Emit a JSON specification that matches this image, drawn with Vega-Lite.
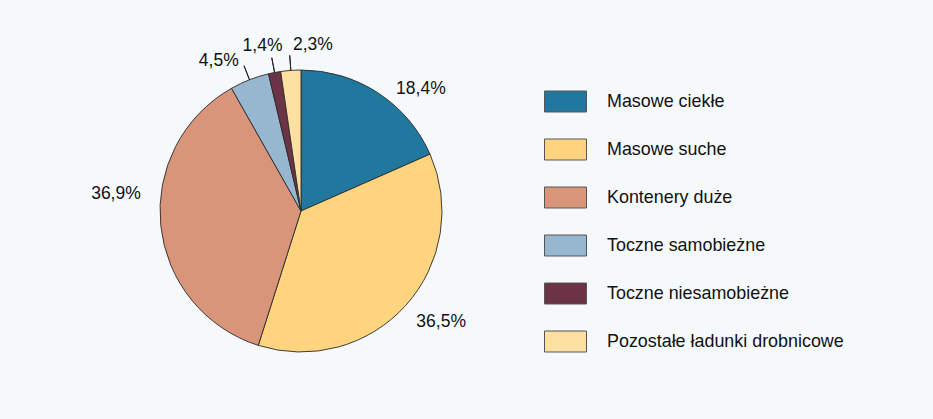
{
  "$schema": "https://vega.github.io/schema/vega-lite/v6.json",
  "width": 282,
  "height": 282,
  "autosize": {"type": "none"},
  "padding": {"left": 160, "top": 70, "right": 491, "bottom": 67},
  "background": "#f5f9fc",
  "config": {
    "view": {"stroke": null},
    "font": "Liberation Sans",
    "text": {"font": "Liberation Sans", "fontSize": 17.5, "color": "#111111"}
  },
  "data": {
    "values": [
      {"idx": 1, "category": "Masowe ciekłe", "value": 18.4, "label": "18,4%"},
      {"idx": 2, "category": "Masowe suche", "value": 36.5, "label": "36,5%"},
      {"idx": 3, "category": "Kontenery duże", "value": 36.9, "label": "36,9%"},
      {"idx": 4, "category": "Toczne samobieżne", "value": 4.5, "label": "4,5%"},
      {"idx": 5, "category": "Toczne niesamobieżne", "value": 1.4, "label": "1,4%"},
      {"idx": 6, "category": "Pozostałe ładunki drobnicowe", "value": 2.3, "label": "2,3%"}
    ]
  },
  "encoding": {
    "theta": {"field": "value", "type": "quantitative", "stack": true},
    "order": {"field": "idx", "type": "quantitative"}
  },
  "layer": [
    {
      "mark": {"type": "arc", "outerRadius": 141, "stroke": "#2a2a2a", "strokeWidth": 0.9},
      "encoding": {
        "color": {
          "field": "category",
          "type": "nominal",
          "sort": ["Masowe ciekłe", "Masowe suche", "Kontenery duże", "Toczne samobieżne", "Toczne niesamobieżne", "Pozostałe ładunki drobnicowe"],
          "scale": {
            "domain": ["Masowe ciekłe", "Masowe suche", "Kontenery duże", "Toczne samobieżne", "Toczne niesamobieżne", "Pozostałe ładunki drobnicowe"],
            "range": ["#21789f", "#ffd47f", "#d9957a", "#97b6cf", "#6c3347", "#ffe0a3"]
          },
          "legend": {
            "title": null,
            "orient": "none",
            "legendX": 384,
            "legendY": 10,
            "padding": 0,
            "symbolType": "M-1,-0.5H1V0.5H-1Z",
            "symbolSize": 1764,
            "symbolStrokeColor": "#555555",
            "symbolStrokeWidth": 1,
            "symbolOpacity": 1,
            "labelFont": "Liberation Sans",
            "labelFontSize": 17.9,
            "labelColor": "#111111",
            "labelOffset": 20,
            "labelLimit": 400,
            "rowPadding": 14
          }
        }
      }
    },
    {
      "mark": {"type": "arc", "innerRadius": 141, "outerRadius": 156, "padAngle": 3, "fill": null, "stroke": "#222222", "strokeWidth": 1},
      "encoding": {
        "strokeOpacity": {"condition": {"test": "datum.value < 10", "value": 1}, "value": 0}
      }
    },
    {
      "mark": {"type": "text", "radius": 170, "align": "center", "baseline": "middle", "dx": 27, "dy": 20},
      "encoding": {"text": {"condition": {"test": "datum.idx == 1", "field": "label"}, "value": ""}}
    },
    {
      "mark": {"type": "text", "radius": 175, "align": "center", "baseline": "middle", "dx": 10, "dy": -6},
      "encoding": {"text": {"condition": {"test": "datum.idx == 2", "field": "label"}, "value": ""}}
    },
    {
      "mark": {"type": "text", "radius": 180, "align": "center", "baseline": "middle", "dx": -6, "dy": -36},
      "encoding": {"text": {"condition": {"test": "datum.idx == 3", "field": "label"}, "value": ""}}
    },
    {
      "mark": {"type": "text", "radius": 165, "align": "right", "baseline": "middle", "dx": -2, "dy": 4},
      "encoding": {"text": {"condition": {"test": "datum.idx == 4", "field": "label"}, "value": ""}}
    },
    {
      "mark": {"type": "text", "radius": 168, "align": "center", "baseline": "middle", "dx": -7},
      "encoding": {"text": {"condition": {"test": "datum.idx == 5", "field": "label"}, "value": ""}}
    },
    {
      "mark": {"type": "text", "radius": 166, "align": "left", "baseline": "middle", "dx": 4},
      "encoding": {"text": {"condition": {"test": "datum.idx == 6", "field": "label"}, "value": ""}}
    }
  ]
}
